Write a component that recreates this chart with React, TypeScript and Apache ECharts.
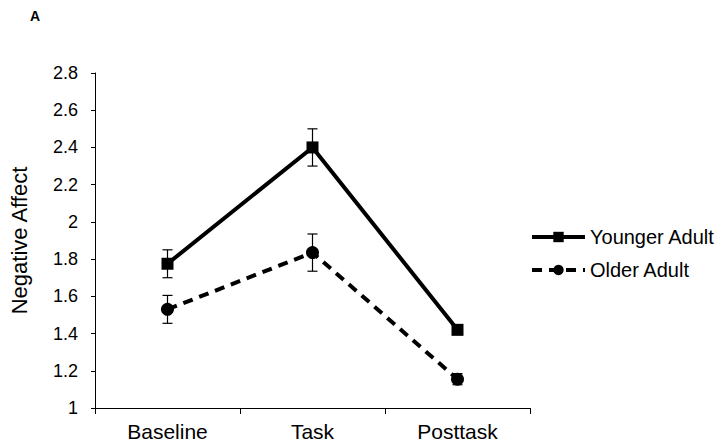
import React, { useEffect, useRef } from "react";
import * as echarts from "echarts";

const categories = ["Baseline", "Task", "Posttask"];
const youngerMean = [1.775, 2.4, 1.42];
const youngerErr = [0.075, 0.1, 0.025];
const olderMean = [1.53, 1.835, 1.155];
const olderErr = [0.075, 0.1, 0.03];
const yTicks = [1, 1.2, 1.4, 1.6, 1.8, 2, 2.2, 2.4, 2.6, 2.8];

const FONT = "Liberation Sans, Arial, sans-serif";

function errorSeries(name: string, means: number[], errs: number[]) {
  return {
    type: "custom",
    name: name + " err",
    z: 1,
    data: means.map((m, i) => [i, m - errs[i], m + errs[i]]),
    renderItem: (params: any, api: any) => {
      const x = api.value(0);
      const lo = api.coord([x, api.value(1)]);
      const hi = api.coord([x, api.value(2)]);
      const cap = 5;
      const style = { stroke: "#000", lineWidth: 1.2 };
      return {
        type: "group",
        children: [
          { type: "line", shape: { x1: lo[0], y1: lo[1], x2: hi[0], y2: hi[1] }, style },
          { type: "line", shape: { x1: lo[0] - cap, y1: lo[1], x2: lo[0] + cap, y2: lo[1] }, style },
          { type: "line", shape: { x1: hi[0] - cap, y1: hi[1], x2: hi[0] + cap, y2: hi[1] }, style },
        ],
      };
    },
  };
}

export default function App() {
  const ref = useRef<HTMLDivElement>(null);
  useEffect(() => {
    if (!ref.current) return;
    const chart = echarts.init(ref.current, null, { renderer: "svg" });
    chart.setOption({
      animation: false,
      backgroundColor: "#fff",
      grid: { left: 89, right: 194, top: 73, bottom: 36, containLabel: false },
      graphic: [
        {
          type: "text",
          left: 30,
          top: 9,
          style: { text: "A", font: "bold 14px " + FONT, fill: "#000" },
        },
      ],
      legend: {
        orient: "vertical",
        left: 525,
        top: 222,
        padding: 5,
        itemGap: 13,
        itemWidth: 53,
        itemHeight: 13,
        data: ["Younger Adult", "Older Adult"],
        lineStyle: { width: 4 },
        textStyle: { fontFamily: FONT, fontSize: 20, color: "#000" },
      },
      xAxis: {
        type: "category",
        data: categories,
        boundaryGap: true,
        axisLine: { lineStyle: { color: "#000", width: 1 } },
        axisTick: { show: true, length: 6, inside: false, lineStyle: { color: "#000" } },
        axisLabel: { color: "#000", fontFamily: FONT, fontSize: 21, margin: 13 },
        splitLine: { show: false },
      },
      yAxis: {
        type: "value",
        min: 1,
        max: 2.8,
        interval: 0.2,
        name: "Negative Affect",
        nameLocation: "middle",
        nameGap: 65,
        nameRotate: 90,
        nameTextStyle: { color: "#000", fontFamily: FONT, fontSize: 22 },
        axisLine: { show: true, lineStyle: { color: "#000", width: 1 } },
        axisTick: { show: true, length: 4, lineStyle: { color: "#000" } },
        axisLabel: {
          color: "#000",
          fontFamily: FONT,
          fontSize: 18,
          margin: 17,
          formatter: (v: number) => {
            const t = yTicks.find((k) => Math.abs(k - v) < 1e-6);
            return t === undefined ? "" : String(Math.round(t * 10) / 10);
          },
        },
        splitLine: { show: false },
      },
      series: [
        errorSeries("Younger", youngerMean, youngerErr),
        errorSeries("Older", olderMean, olderErr),
        {
          type: "line",
          name: "Younger Adult",
          data: youngerMean,
          z: 3,
          symbol: "rect",
          symbolSize: 12,
          lineStyle: { color: "#000", width: 4, type: "solid" },
          itemStyle: { color: "#000", borderWidth: 0 },
        },
        {
          type: "line",
          name: "Older Adult",
          data: olderMean,
          z: 3,
          symbol: "circle",
          symbolSize: 13,
          lineStyle: { color: "#000", width: 4, type: [10, 7] },
          itemStyle: { color: "#000", borderWidth: 0 },
        },
      ],
    });
    return () => chart.dispose();
  }, []);
  return <div ref={ref} style={{ width: 724, height: 444, position: "absolute", left: 0, top: 0 }} />;
}
